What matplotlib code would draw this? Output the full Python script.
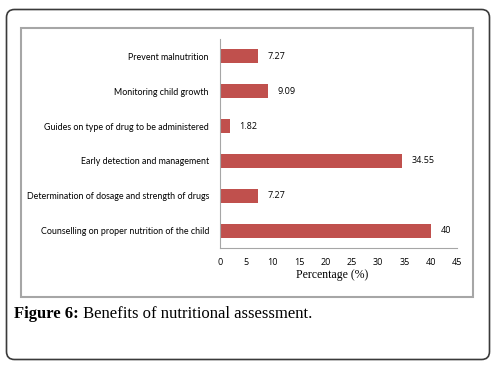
import matplotlib.pyplot as plt
from matplotlib.patches import FancyBboxPatch, Rectangle

categories = ["Prevent malnutrition", "Monitoring child growth",
              "Guides on type of drug to be administered",
              "Early detection and management",
              "Determination of dosage and strength of drugs",
              "Counselling on proper nutrition of the child"]
values = [7.27, 9.09, 1.82, 34.55, 7.27, 40]
labels = ["7.27", "9.09", "1.82", "34.55", "7.27", "40"]
xticks = [0, 5, 10, 15, 20, 25, 30, 35, 40, 45]

fig = plt.figure(figsize=(4.96, 3.67), dpi=100)

# outer rounded frame (inches)
outer = FancyBboxPatch((0.065, 0.075), 4.83, 3.50, boxstyle="round,pad=0,rounding_size=0.08",
                       transform=fig.dpi_scale_trans, facecolor="white", edgecolor="#3a3a3a",
                       linewidth=1.2, zorder=-10)
fig.patches.append(outer)
# inner chart border
inner = Rectangle((21 / 496, 1 - 297 / 367), 452 / 496, 269 / 367, transform=fig.transFigure,
                  facecolor="white", edgecolor="#a6a6a6", linewidth=1.5, zorder=-9)
fig.patches.append(inner)

ax = fig.add_axes([220 / 496, 1 - 248 / 367, 237 / 496, 209 / 367])
ypos = list(range(len(categories)))[::-1]
ax.barh(ypos, values, height=0.4, color="#c0504d")
ax.set_ylim(-0.5, len(categories) - 0.5)
ax.set_xlim(0, 45)
ax.set_xticks(xticks)
ax.set_xticklabels([str(t) for t in xticks], fontsize=6.5, family="Open Sans")
ax.set_yticks(ypos)
ax.set_yticklabels(categories, fontsize=6.4, family="Lato")
ax.tick_params(length=0, pad=7)
ax.tick_params(axis="y", pad=8)
for s in ["top", "right"]:
    ax.spines[s].set_visible(False)
for s in ["left", "bottom"]:
    ax.spines[s].set_color("#a6a6a6")
    ax.spines[s].set_linewidth(0.8)
ax.patch.set_alpha(0)

for y, v, l in zip(ypos, values, labels):
    ax.annotate(l, (v, y), xytext=(7, 0), textcoords="offset points", va="center",
                ha="left", fontsize=6.5, family="Open Sans")

ax.set_xlabel("Percentage (%)", fontsize=8.5, family="Liberation Serif", labelpad=3)
ax.xaxis.set_label_coords(0.475, -0.1)

t1 = fig.text(14 / 496, 1 - 318 / 367, "Figure 6:", fontsize=12, family="Liberation Serif",
              fontweight="bold", va="baseline")
ax.annotate(" Benefits of nutritional assessment.", xy=(1, 0), xycoords=t1, va="bottom",
            ha="left", fontsize=12, family="Liberation Serif", annotation_clip=False)

fig.savefig("out.png", dpi=100)
